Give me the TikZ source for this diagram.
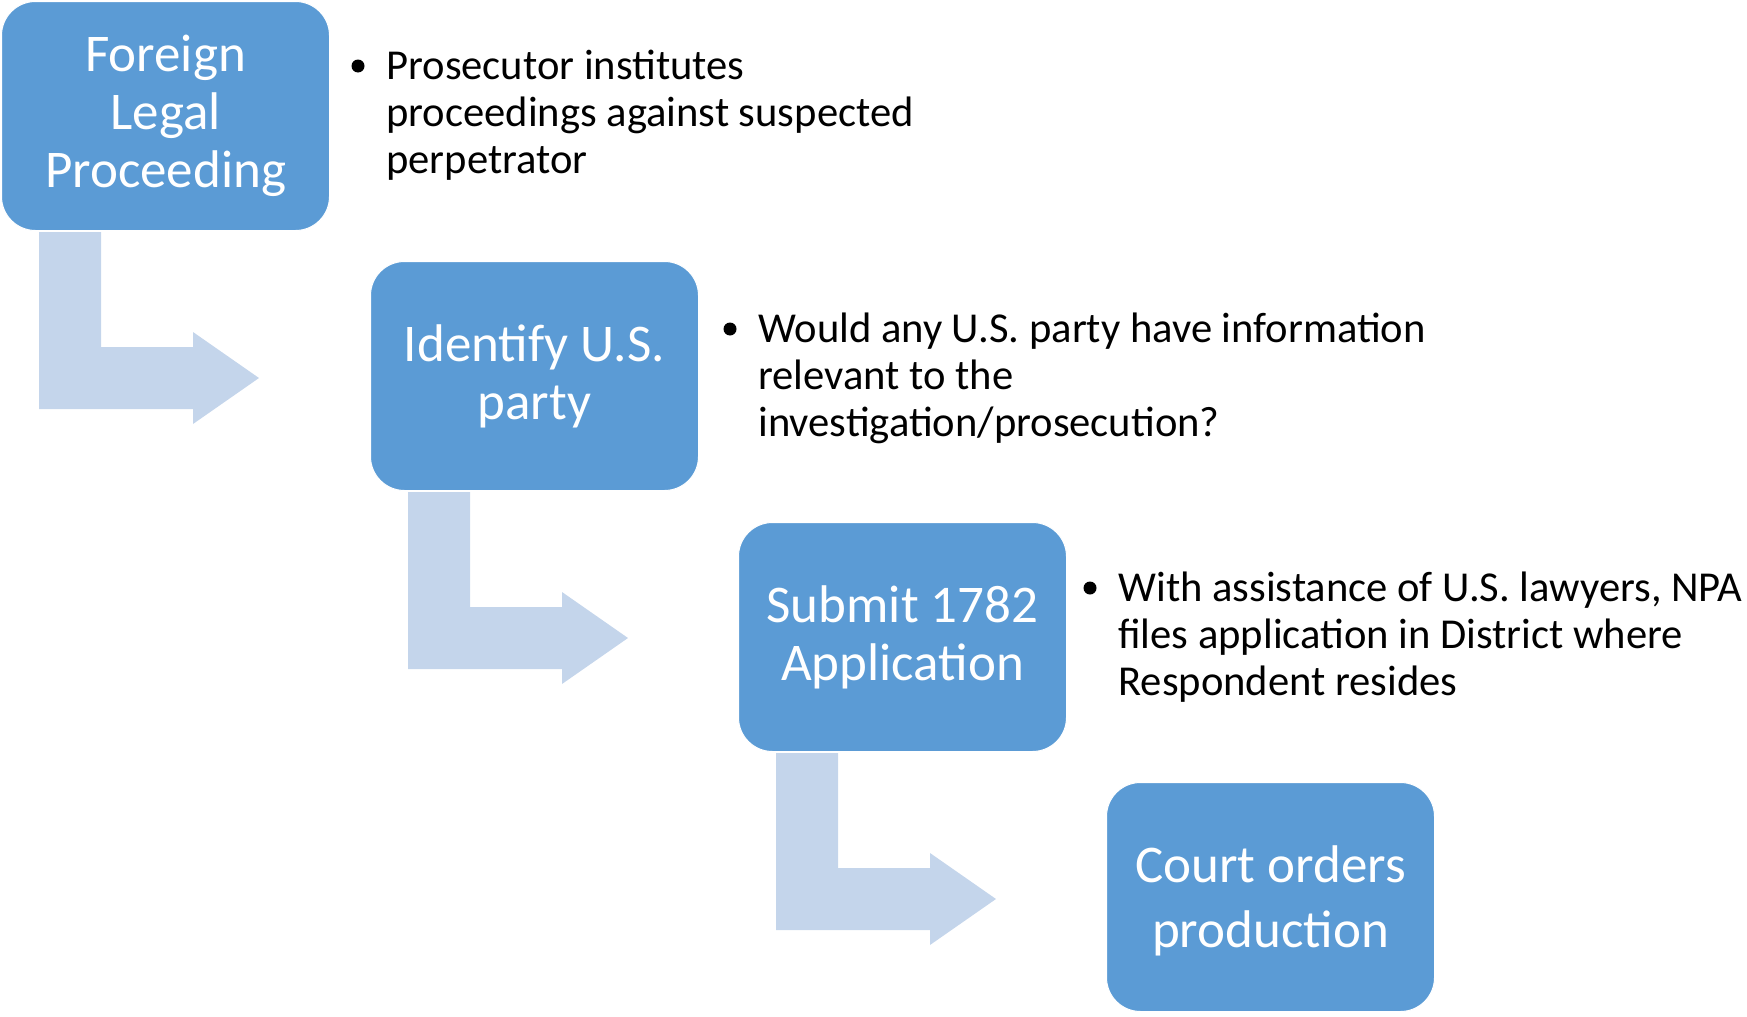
\documentclass[tikz,border=0pt]{standalone}
\usepackage{fontspec}
\setmainfont{Carlito}
\definecolor{boxblue}{HTML}{5B9BD5}
\definecolor{arrowblue}{HTML}{C4D5EB}
\tikzset{
  stepbox/.style={fill=boxblue, draw=white, line width=0.5pt, rounded corners=17pt,
    minimum width=164pt, minimum height=114.5pt, anchor=north west, inner sep=0pt,
    align=center, text=white, font=\fontsize{26.5pt}{29pt}\selectfont},
  bentarrow/.style={fill=arrowblue},
  bullettext/.style={anchor=base west, align=left, inner sep=0pt,
    font=\fontsize{21.3pt}{23.3pt}\selectfont},
  bulletdot/.style={circle, fill=black, inner sep=0pt, minimum size=6.5pt},
}
\begin{document}
\begin{tikzpicture}[x=0.5pt,y=-0.5pt]
\useasboundingbox (0,0) rectangle (1747,1017);

% boxes
\node[stepbox] (b1) at (1,1) {Foreign\\Legal\\Proceeding};
\node[stepbox] (b2) at (370,261) {Identify U.S.\\party};
\node[stepbox] (b3) at (738,522) {Submit 1782\\Application};
\node[stepbox, font=\fontsize{26.5pt}{32.5pt}\selectfont, text depth=-1.5pt] (b4) at (1106,782) {Court orders\\production};

% bent arrows
\foreach \b in {b1,b2,b3}{
  \begin{scope}[shift={(\b.north west)}]
    \fill[bentarrow] (38,231) -- (100,231) -- (100,346) -- (192,346) -- (192,331)
      -- (258,377) -- (192,423) -- (192,408) -- (38,408) -- cycle;
  \end{scope}
}

% bullets (base anchor = last line baseline)
\node[bullettext] (t1) at (386,173) {Prosecutor institutes\\proceedings against suspected\\perpetrator};
\node[bulletdot] (d1) at (358,66) {};
\node[bullettext] (t2) at (758,436) {Would any U.S. party have information\\relevant to the\\investigation/prosecution?};
\node[bulletdot] (d2) at (730,329) {};
\node[bullettext] (t3) at (1118,695) {With assistance of U.S. lawyers, NPA\\files application in District where\\Respondent resides};
\node[bulletdot] (d3) at (1090,588) {};
\end{tikzpicture}
\end{document}
